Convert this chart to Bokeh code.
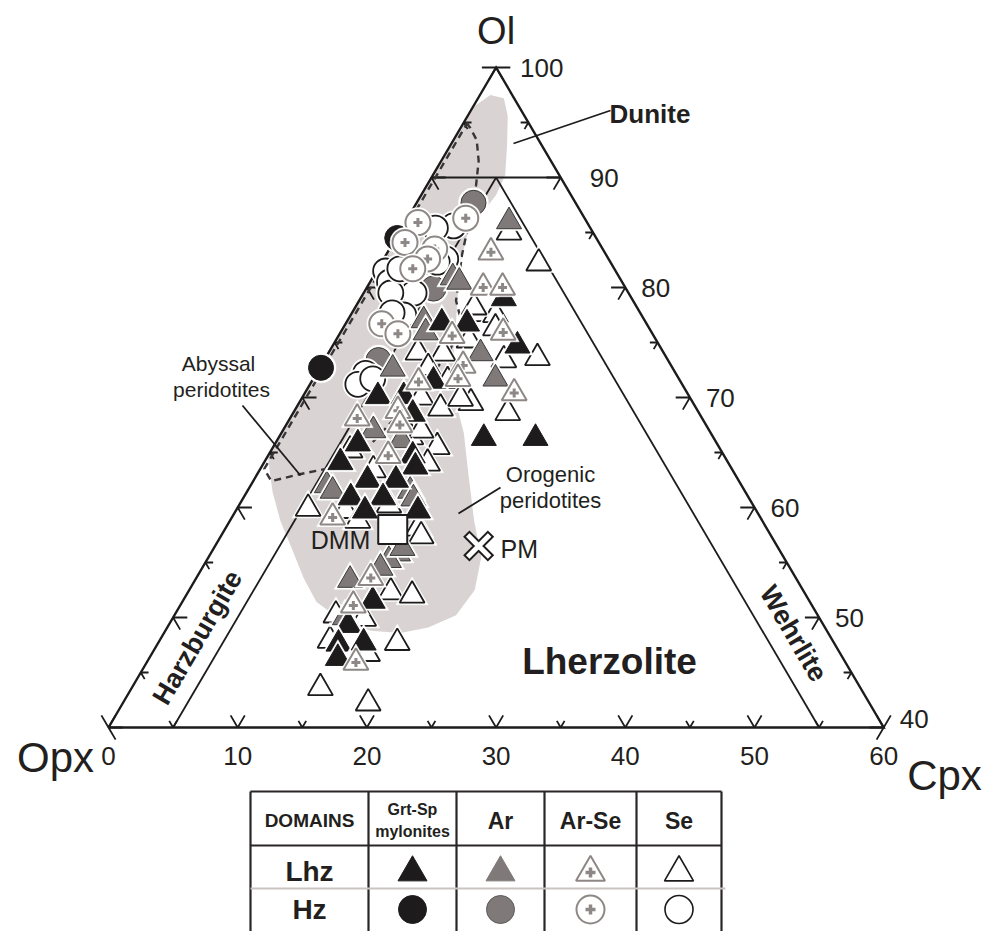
import numpy as np
from bokeh.plotting import figure
from bokeh.models import ColumnDataSource, Range1d
from bokeh.core.properties import value
from bokeh.embed import file_html
from bokeh.resources import INLINE

# ---------------------------------------------------------------------------
# Modal compositions (Ol %, Cpx %; Opx is the remainder)
# ---------------------------------------------------------------------------
# Lherzolites
lhz_se_ol = [85.0, 82.2, 77.6, 77.5, 76.3, 74.0, 74.1, 73.6, 73.4, 72.7, 70.0, 69.5,
             69.0, 68.6, 66.4, 65.5, 64.0, 59.9, 59.7, 58.1, 57.4, 52.3, 52.0, 50.2,
             49.9, 47.9, 47.7, 46.7, 43.6, 42.2, 65.2, 63.4, 60.2, 58.8, 75.2, 71.5,
             67.0, 78.2, 69.9]
lhz_se_cpx = [8.5, 12.2, 9.7, 11.2, 11.8, 8.9, 6.9, 16.4, 13.9, 8.4, 9.2, 13.3,
              11.2, 16.6, 10.2, 12.7, 12.7, 5.5, 8.5, 14.9, 15.5, 15.7, 17.5, 12.5,
              14.8, 13.2, 18.5, 16.7, 14.6, 19.0, 6.1, 8.8, 11.6, 9.9, 10.3, 10.5,
              10.7, 9.2, 12.3]

lhz_ar_ol = [86.0, 80.9, 80.5, 77.0, 75.9, 74.0, 71.7, 72.6, 67.0, 66.1, 62.0, 61.5,
             61.5, 60.8, 55.8, 55.2, 54.5, 53.4, 50.0, 56.3]
lhz_ar_cpx = [8.0, 6.2, 6.9, 5.9, 6.6, 11.8, 14.1, 5.7, 7.0, 9.6, 5.9, 6.6,
              12.6, 13.2, 14.5, 14.1, 13.8, 12.0, 13.3, 14.6]

lhz_myl_ol = [79.0, 76.8, 76.7, 74.7, 71.5, 70.1, 70.1, 68.5, 66.3, 66.3, 65.8, 64.1,
              64.7, 63.7, 62.5, 62.5, 60.9, 60.9, 59.7, 59.7, 51.5, 49.3, 47.6, 47.7, 46.3]
lhz_myl_cpx = [11.1, 7.4, 9.4, 14.3, 9.4, 5.8, 7.8, 9.3, 15.9, 19.9, 6.4, 5.9,
               11.2, 11.9, 8.8, 11.0, 8.3, 10.8, 14.1, 10.0, 14.7, 13.9, 14.0, 15.9, 14.6]

lhz_arse_ol = [83.2, 80.0, 80.0, 75.6, 75.9, 72.9, 71.7, 70.4, 71.4, 68.1, 68.8, 67.5,
               64.7, 59.1, 53.6, 51.1, 45.9]
lhz_arse_cpx = [8.0, 9.0, 10.5, 8.8, 12.6, 11.0, 11.2, 16.2, 8.3, 5.2, 8.0, 8.8,
                9.3, 7.8, 13.5, 13.4, 16.2]

# Harzburgites
hz_myl_ol = [84.5, 72.7]
hz_myl_cpx = [0.1, 0.1]

hz_ar_ol = [87.7, 80.4, 79.9, 73.4]
hz_ar_cpx = [4.4, 4.6, 5.2, 4.2]

hz_se_ol = [85.6, 85.4, 82.6, 82.3, 81.5, 80.5, 80.8, 79.5, 79.5, 77.5, 77.7, 72.2,
            71.2, 71.7, 81.7]
hz_se_cpx = [3.9, 2.6, 4.8, 4.3, 0.7, 1.5, 2.5, 3.9, 2.1, 4.1, 3.1, 3.8,
             3.7, 4.6, 1.7]

hz_arse_ol = [86.3, 85.9, 84.1, 83.5, 82.6, 81.7, 76.7, 75.8]
hz_arse_cpx = [4.5, 1.0, 0.9, 3.5, 3.4, 2.7, 2.8, 4.5]

# Reference mantle compositions
dmm_ol, dmm_cpx = 58.0, 13.0
pm_ol, pm_cpx = 56.5, 20.4

# Field of orogenic peridotites (shaded) and abyssal peridotites (dashed)
orogenic_ol = [97.5, 97.2, 95.6, 92.9, 90.2, 88.4, 86.5, 84.7, 82.3, 78.8, 74.3, 69.7,
               66.8, 63.1, 58.8, 55.5, 52.5, 50.2, 49.1, 48.6, 48.8, 49.9, 51.4, 53.6,
               56.1, 58.8, 61.4, 63.5, 64.7, 95.0, 96.5]
orogenic_cpx = [0.8, 2.0, 3.1, 4.4, 5.6, 5.8, 5.5, 5.4, 6.1, 7.6, 9.6, 12.0,
                14.1, 16.3, 18.9, 21.1, 22.1, 21.8, 20.2, 18.3, 15.9, 12.9, 10.4, 8.3,
                6.2, 3.9, 2.0, 0.7, 0.0, 0.0, 0.1]

abyssal_ol = [95.0, 94.5, 93.4, 91.5, 89.3, 86.5, 82.9, 78.8, 77.2, 74.3, 70.6, 67.2,
              65.0, 63.6, 63.0, 62.4, 63.5, 95.0]
abyssal_cpx = [0.2, 0.75, 1.8, 2.9, 3.8, 4.75, 5.9, 7.5, 8.65, 9.3, 8.8, 7.85,
               7.2, 5.4, 3.2, 1.4, 0.3, 0.3]

# Axis labels
bottom_ticks = [0, 10, 20, 30, 40, 50, 60]      # Cpx along the base (Ol = 40)
right_ticks = [100, 90, 80, 70, 60, 50, 40]     # Ol along the Ol-Cpx side

# ---------------------------------------------------------------------------
# Drawing geometry
# ---------------------------------------------------------------------------
W, H = 989, 931
X0, Y0 = 108.0, 727.0     # screen position of the Opx corner (Ol 40, Cpx 0)
SX, SY = 12.92, 11.0      # pixels per percent horizontally / per percent Ol

INK = "#1d1b1c"
GREY = "#7f7a79"
ARSE = "#8d8785"
FIELD = "#d9d4d3"
TXT = "#231f20"
FONT = value("Liberation Sans")


def tern(ol, cpx):
    """Truncated ternary (Ol >= 40) to plot coordinates."""
    ol = np.asarray(ol, dtype=float)
    cpx = np.asarray(cpx, dtype=float)
    return cpx + (ol - 40.0) / 2.0, ol


def scr(px, py):
    """Screen position (pixels from top-left) to plot coordinates."""
    return (px - X0) / SX, 40.0 + (Y0 - py) / SY


p = figure(width=W, height=H,
           x_range=Range1d((0 - X0) / SX, (W - X0) / SX),
           y_range=Range1d(40 + (Y0 - H) / SY, 40 + Y0 / SY),
           x_axis_location=None, y_axis_location=None,
           toolbar_location=None, output_backend="svg", min_border=0)
p.grid.visible = False
p.outline_line_color = None
p.background_fill_color = "white"
p.border_fill_color = "white"


def text(x, y, s, size, bold=False, align="center", angle=0.0):
    p.text([x], [y], text=[s], text_font=FONT, text_font_size=value(f"{size}px"),
           text_font_style="bold" if bold else "normal", text_align=align,
           text_baseline="middle", angle=angle, text_color=TXT)


def stext(px, py, s, size, bold=False, align="center", angle=0.0):
    x, y = scr(px, py)
    text(x, y, s, size, bold, align, angle)


# orogenic peridotite field
fx, fy = tern(orogenic_ol, orogenic_cpx)
p.patch(fx, fy, fill_color=FIELD, line_color=None)

# triangle outline
tx, ty = tern([40, 100, 40, 40], [0, 0, 60, 0])
p.line(tx, ty, line_color=INK, line_width=2.4, line_join="miter")

# rock-name field boundaries: Ol = 90, Cpx = 5, Opx = 5
bx, by = [], []
for ol_pair, cpx_pair in (([90, 90], [0, 10]), ([40, 90], [5, 5]), ([40, 90], [55, 5])):
    a, b = tern(ol_pair, cpx_pair)
    bx.append(list(a))
    by.append(list(b))
p.multi_line(bx, by, line_color=INK, line_width=1.8)

# chevron ticks on the three sides
kx, ky = [], []
for v in range(40, 101, 5):
    d = 1.1 if v % 10 == 0 else 0.6
    a, b = tern([v, v, v - d], [d, 0, d])                      # Opx-Ol side
    kx.append(list(a)); ky.append(list(b))
    a, b = tern([v, v, v - d], [100 - v - d, 100 - v, 100 - v])  # Ol-Cpx side
    kx.append(list(a)); ky.append(list(b))
for c in range(0, 61, 5):
    d = 1.1 if c % 10 == 0 else 0.6
    a, b = tern([40 + d, 40, 40 + d], [c, c, c - d])            # base
    kx.append(list(a)); ky.append(list(b))
p.multi_line(kx, ky, line_color=INK, line_width=1.8)

# abyssal peridotite field
ax_, ay_ = tern(abyssal_ol, abyssal_cpx)
p.line(ax_, ay_, line_color="#3a3637", line_width=2.4, line_dash="7 5")

# tick labels
for c in bottom_ticks:
    x, y = tern(40, c)
    text(float(x), float(y) - 28 / SY, str(c), 26)
for v in right_ticks:
    x, y = tern(v, 100 - v)
    dx = {100: 24, 90: 29}.get(v, 16)
    dy = 9 if v == 40 else 0
    text(float(x) + dx / SX, float(y) + dy / SY, str(v), 26, align="left")

# apex / corner names
x, y = tern(100, 0)
text(float(x), float(y) + 37 / SY, "Ol", 38)
stext(55, 757, "Opx", 42)
stext(944, 775, "Cpx", 42)

# field names and leaders
stext(609, 113, "Dunite", 26, bold=True, align="left")
stext(609, 661, "Lherzolite", 37, bold=True)
stext(197, 637, "Harzburgite", 27, bold=True, angle=np.radians(59.6))
stext(793, 633, "Wehrlite", 27, bold=True, angle=-np.radians(59.6))
stext(218, 363, "Abyssal", 21)
stext(221, 389, "peridotites", 21)
stext(550, 474, "Orogenic", 22)
stext(550, 500, "peridotites", 22)

lead = [((513, 143), (610, 110)), ((242, 405), (300, 475)), ((458, 513), (500, 487))]
lx, ly = [], []
for (a, b) in lead:
    (x1, y1), (x2, y2) = scr(*a), scr(*b)
    lx.append([x1, x2]); ly.append([y1, y2])
p.multi_line(lx, ly, line_color=INK, line_width=1.8)

# ---------------------------------------------------------------------------
# Sample symbols, each with a thin white halo, drawn in one ordered pass
# ---------------------------------------------------------------------------
STYLE = {
    "myl": dict(fill=INK, line=INK, lw=1.0, plus=False),
    "ar": dict(fill=GREY, line="#3b3838", lw=1.0, plus=False),
    "arse": dict(fill="white", line=ARSE, lw=2.0, plus=True),
    "se": dict(fill="white", line=INK, lw=1.8, plus=False),
}
rows = {k: [] for k in ("x", "y", "marker", "size", "fill", "line", "lw")}


def add(x, y, marker, size, fill, line, lw):
    for k, v in zip(rows, (x, y, marker, size, fill, line, lw)):
        rows[k].append(v)


def add_group(ols, cpxs, shape, kind, size, plus_size=9, plus_lw=3.0):
    st = STYLE[kind]
    xs, ys = tern(ols, cpxs)
    grow = 7 if shape == "triangle" else 5
    for x, y in zip(np.atleast_1d(xs), np.atleast_1d(ys)):
        add(float(x), float(y), shape, size + grow, "white", "white", 0.5)
        add(float(x), float(y), shape, size, st["fill"], st["line"], st["lw"])
        if st["plus"]:
            add(float(x), float(y), "cross", plus_size, ARSE, ARSE, plus_lw)


add_group(hz_myl_ol, hz_myl_cpx, "circle", "myl", 25)
add_group(hz_ar_ol, hz_ar_cpx, "circle", "ar", 25)
add_group(hz_se_ol, hz_se_cpx, "circle", "se", 25)
add_group(hz_arse_ol, hz_arse_cpx, "circle", "arse", 25)
add_group(lhz_se_ol, lhz_se_cpx, "triangle", "se", 25)
add_group(lhz_ar_ol, lhz_ar_cpx, "triangle", "ar", 25)
add_group(lhz_myl_ol, lhz_myl_cpx, "triangle", "myl", 25)
add_group(lhz_arse_ol, lhz_arse_cpx, "triangle", "arse", 25)

# DMM (square) and PM (outlined cross)
x, y = tern(dmm_ol, dmm_cpx)
add(float(x), float(y), "square", 29, "white", INK, 2.0)
x, y = tern(pm_ol, pm_cpx)
add(float(x), float(y), "x", 35, INK, INK, 9.0)
add(float(x), float(y), "x", 31, "white", "white", 5.0)

p.scatter(x="x", y="y", marker="marker", size="size", fill_color="fill",
          line_color="line", line_width="lw", source=ColumnDataSource(rows))

stext(340, 539, "DMM", 25, align="center")
stext(500, 548, "PM", 25, align="left")

# ---------------------------------------------------------------------------
# Symbol key table
# ---------------------------------------------------------------------------
col_edges = [250, 368, 456, 544, 636, 721]
top, head_bot, sep, bot = 791, 845, 888, 935
gx, gy = [], []
for cx in col_edges:
    (x1, y1), (x2, y2) = scr(cx, top), scr(cx, bot)
    gx.append([x1, x2]); gy.append([y1, y2])
for ry in (top, head_bot):
    (x1, y1), (x2, y2) = scr(col_edges[0], ry), scr(col_edges[-1], ry)
    gx.append([x1, x2]); gy.append([y1, y2])
p.multi_line(gx, gy, line_color="#2a2526", line_width=2.2)
(x1, y1), (x2, y2) = scr(col_edges[0], sep), scr(725, sep)
p.line([x1, x2], [y1, y2], line_color="#c9c3c1", line_width=2.0)

centres = [(a + b) / 2 for a, b in zip(col_edges[:-1], col_edges[1:])]
stext(centres[0], 820, "DOMAINS", 19, bold=True)
stext(centres[1], 809, "Grt-Sp", 16, bold=True)
stext(centres[1], 831, "mylonites", 16, bold=True)
for c, s in zip(centres[2:], ("Ar", "Ar-Se", "Se")):
    stext(c, 820, s, 23, bold=True)
stext(centres[0], 871, "Lhz", 28, bold=True)
stext(centres[0], 909, "Hz", 28, bold=True)

rows = {k: [] for k in rows}
for c, kind in zip(centres[1:], ("myl", "ar", "arse", "se")):
    st = STYLE[kind]
    x, y = scr(c, 872)
    add(x, y, "triangle", 29, st["fill"], st["line"] if kind != "ar" else GREY,
        st["lw"] if kind != "se" else 1.6)
    if st["plus"]:
        add(x, y, "cross", 10, ARSE, ARSE, 3.5)
    x, y = scr(c, 909)
    add(x, y, "circle", 28, st["fill"], st["line"] if kind != "ar" else "#5d5858",
        st["lw"] if kind != "se" else 1.6)
    if st["plus"]:
        add(x, y, "cross", 10, ARSE, ARSE, 3.5)
p.scatter(x="x", y="y", marker="marker", size="size", fill_color="fill",
          line_color="line", line_width="lw", source=ColumnDataSource(rows))

open("out.html", "w").write(file_html(p, INLINE))
